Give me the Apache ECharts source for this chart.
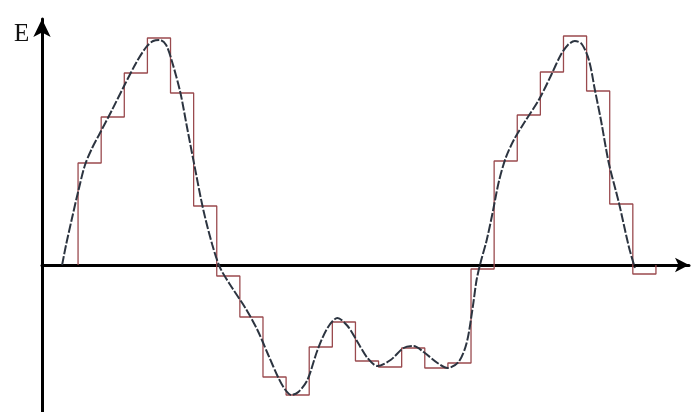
<!DOCTYPE html>
<html>
<head>
<meta charset="utf-8">
<script src="https://cdn.jsdelivr.net/npm/echarts@6/dist/echarts.min.js"></script>
<style>
html,body{margin:0;padding:0;background:#fff;}
#chart{width:696px;height:412px;}
</style>
</head>
<body>
<div id="chart"></div>
<script>
// Staircase approximation: one value per step (25 steps, each of unit width)
var stepValues = [10.2, 14.8, 19.2, 22.7, 17.2, 5.9, -1.1, -5.2, -11.2, -13.0,
                  -8.2, -5.7, -9.6, -10.2, -8.3, -10.3, -9.8, -0.4, 10.4, 15.0,
                  19.3, 22.9, 17.4, 6.1, -0.9];

// Smooth curve sampled points (x in step units, y in E units)
var curveX = [-0.69, -0.52, -0.26, 0.00, 0.30, 0.61, 0.95, 1.47, 1.99, 2.51,
              2.95, 3.25, 3.55, 3.81, 4.07, 4.42, 4.72, 5.03, 5.42, 5.81,
              6.15, 6.67, 7.24, 7.76, 8.23, 8.67, 8.97, 9.23, 9.53, 9.92,
              10.36, 10.79, 11.22, 11.66, 12.09, 12.52, 12.95, 13.52, 14.08, 14.51,
              14.95, 15.55, 15.99, 16.46, 16.81, 17.07, 17.24, 17.42, 17.68, 17.94,
              18.20, 18.50, 18.85, 19.32, 19.93, 20.45, 20.88, 21.19, 21.49, 21.79,
              22.10, 22.36, 22.62, 22.96, 23.40, 23.83, 24.09];
var curveY = [0.0, 2.0, 4.7, 7.3, 10.0, 11.7, 13.2, 15.5, 17.9, 20.2,
              21.8, 22.4, 22.5, 22.0, 20.3, 17.3, 13.7, 10.0, 5.5, 2.0,
              -0.3, -2.3, -4.3, -6.5, -9.0, -11.3, -12.5, -13.0, -12.7, -11.5,
              -8.5, -6.3, -5.3, -6.1, -7.7, -9.3, -10.1, -9.5, -8.3, -8.1,
              -8.7, -9.8, -10.3, -9.7, -7.8, -4.3, -1.5, 0.3, 2.5, 5.3,
              8.3, 10.7, 12.5, 14.3, 16.5, 18.9, 21.0, 22.0, 22.4, 22.1,
              20.5, 17.5, 14.5, 10.2, 6.2, 1.8, -0.3];

var axisLabelE = 'E';

// Build step path data from the step values
var stepData = [[0, 0]];
for (var i = 0; i < stepValues.length; i++) {
  stepData.push([i + 1, stepValues[i]]);
}
stepData.push([stepValues.length, 0]);

var curveData = curveX.map(function (x, i) { return [x, curveY[i]]; });

var chart = echarts.init(document.getElementById('chart'), null, {renderer: 'canvas'});
chart.setOption({
  animation: false,
  backgroundColor: '#ffffff',
  title: {
    text: axisLabelE,
    left: 9,
    top: 17,
    textStyle: {fontFamily: 'Liberation Serif', fontWeight: 'normal', fontSize: 25, color: '#111'}
  },
  grid: {left: 42, right: 7, top: 19, bottom: 0},
  xAxis: {
    type: 'value',
    min: -1.56,
    max: 26.43,
    axisLine: {onZero: true, lineStyle: {color: '#000', width: 3}, symbol: ['none', 'arrow'], symbolSize: [11, 14]},
    axisTick: {show: false},
    axisLabel: {show: false},
    splitLine: {show: false}
  },
  yAxis: {
    type: 'value',
    min: -14.7,
    max: 24.6,
    axisLine: {onZero: false, lineStyle: {color: '#000', width: 3}, symbol: ['none', 'arrow'], symbolSize: [13, 18]},
    axisTick: {show: false},
    axisLabel: {show: false},
    splitLine: {show: false}
  },
  series: [
    {
      type: 'line',
      data: stepData,
      step: 'start',
      showSymbol: false,
      lineStyle: {color: '#9a4a4e', width: 1.3},
      z: 2
    },
    {
      type: 'line',
      data: curveData,
      smooth: 0.3,
      showSymbol: false,
      lineStyle: {color: '#2c3440', width: 2, type: [9, 2]},
      z: 3
    }
  ]
});
</script>
</body>
</html>
